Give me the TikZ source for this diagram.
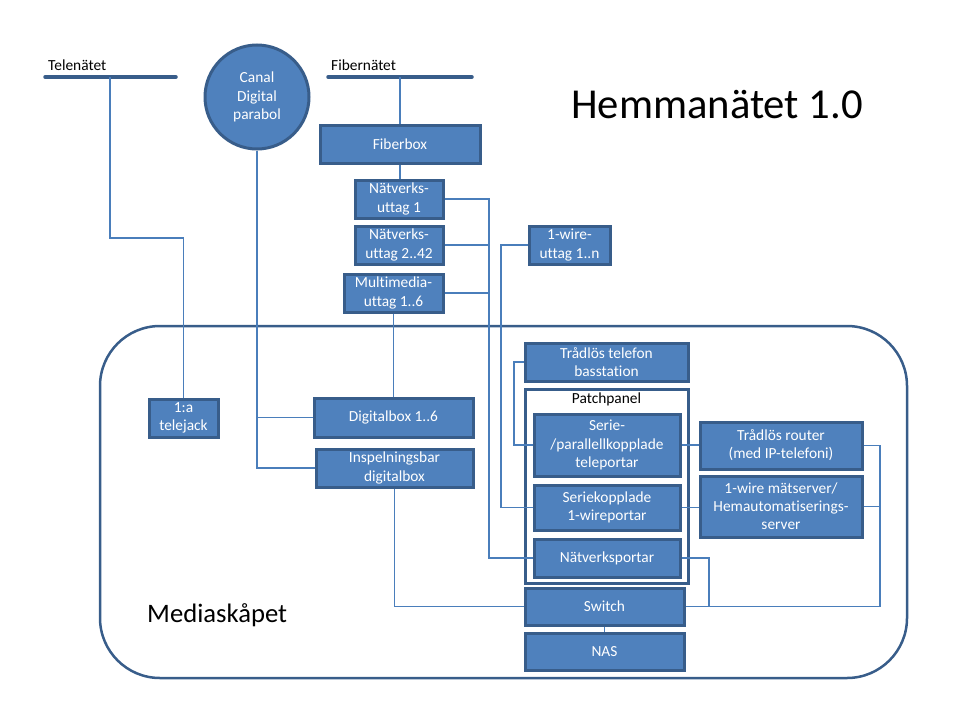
\documentclass[tikz,border=0pt]{standalone}
\usepackage{fontspec}
\setmainfont{Carlito}[Ligatures={NoCommon}]
\definecolor{boxfill}{HTML}{4F81BD}
\definecolor{boxline}{HTML}{385D8A}
\definecolor{connline}{HTML}{4A7EBB}
\tikzset{
  bluebox/.style={draw=boxline, fill=boxfill, line width=3pt, text=white, align=center,
    inner sep=1pt, font=\fontsize{15.4pt}{18.2pt}\selectfont},
  conn/.style={draw=connline, line width=1.1pt},
  netline/.style={draw=boxline, line width=3.5pt, line cap=round},
  lbl/.style={text=black, inner sep=0pt, font=\fontsize{15.4pt}{18.2pt}\selectfont}
}
\newcommand{\bbox}[6]{%
  \node[bluebox, minimum width={(#4)-(#2)}, minimum height={(#5)-(#3)}] (#1) at ({((#2)+(#4))/2},{((#3)+(#5))/2}) {#6};}
\begin{document}
\begin{tikzpicture}[x=1pt,y=-1pt]
\useasboundingbox (0,0) rectangle (960,720);
% cabinet
\node[draw=boxline, line width=2.5pt, rounded corners=60pt, minimum width=807pt, minimum height=352pt, inner sep=0pt] (cab) at (503.5,502) {};
\node[anchor=west, inner sep=0pt, font=\fontsize{26.67pt}{32pt}\selectfont] (medlbl) at (147,615) {Mediaskåpet};
\node[anchor=west, inner sep=0pt, font=\fontsize{42.67pt}{50pt}\selectfont] (title) at (571,105) {Hemmanätet 1.0};
% networks
\coordinate (tnL) at (45,77); \coordinate (tnR) at (176,77);
\coordinate (fnL) at (328,77); \coordinate (fnR) at (472,77);
\draw[netline] (tnL) -- (tnR);
\draw[netline] (fnL) -- (fnR);
\node[lbl, anchor=west] (tnlbl) at (48,65) {Telenätet};
\node[lbl, anchor=west] (fnlbl) at (331,65) {Fibernätet};
\coordinate (tnA) at (110,77);
\coordinate (fnA) at (400,77);
% canal digital
\node[bluebox, circle, minimum size=104pt] (canal) at (257,97) {Canal\\Digital\\parabol};
% boxes
\bbox{fb}{320}{125}{480}{163}{Fiberbox}
\bbox{u1}{355}{180}{443}{218}{Nätverks-\\uttag 1}
\bbox{u2}{355}{226}{443}{264}{Nätverks-\\uttag 2..42}
\bbox{mm}{344}{274}{443}{312}{Multimedia-\\uttag 1..6}
\bbox{ow}{529}{226}{610}{264}{1-wire-\\uttag 1..n}
\bbox{tj}{149}{399}{218}{437}{1:a\\telejack}
\bbox{db}{314}{398}{473}{437}{Digitalbox 1..6}
\bbox{ib}{316}{449}{473}{487}{Inspelningsbar\\digitalbox}
\bbox{bs}{525}{343}{688}{381}{Trådlös telefon\\basstation}
\node[draw=boxline, fill=white, line width=3pt, minimum width=163pt, minimum height=194pt, inner sep=0pt] (pp) at (606.5,486) {};
\node[lbl] (pplbl) at (606.5,399) {Patchpanel};
\bbox{sp}{534}{414}{680}{476}{Serie-\\/parallellkopplade\\teleportar}
\bbox{sk}{534}{485}{680}{530}{Seriekopplade\\1-wireportar}
\bbox{np}{534}{539}{680}{577}{Nätverksportar}
\bbox{rt}{700}{422}{862}{469}{Trådlös router\\(med IP-telefoni)}
\bbox{ms}{700}{476}{862}{537}{1-wire mätserver/\\Hemautomatiserings-\\server}
\bbox{sw}{525}{588}{684}{625}{Switch}
\bbox{nas}{525}{633}{684}{670}{NAS}
% connectors
\coordinate (telebend) at (110,238);
\draw[conn] (tnA) -- (telebend) -| (tj.north);
\draw[conn] (canal.south) |- (db.west);
\draw[conn] (canal.south) |- (ib.west);
\draw[conn] (fnA) -- (fnA |- fb.north);
\draw[conn] (fb.south) -- (fb.south |- u1.north);
\draw[conn] (mm.south) -- (mm.south |- db.north);
\coordinate (busN) at (489,0);
\draw[conn] (u1.east) -- (u1.east -| busN) |- (np.west);
\draw[conn] (u2.east) -- (u2.east -| busN);
\draw[conn] (mm.east) -- (mm.east -| busN);
\coordinate (owx) at (501,0);
\draw[conn] (ow.west) -- (ow.west -| owx) |- (sk.west);
\coordinate (bsx) at (514,0);
\draw[conn] (bs.west) -- (bs.west -| bsx) |- (sp.west);
\draw[conn] (sp.east) -- (sp.east -| rt.west);
\draw[conn] (sk.east) -- (sk.east -| ms.west);
\coordinate (rx) at (880,0);
\draw[conn] (rt.east) -- (rt.east -| rx) |- (sw.east);
\draw[conn] (ms.east) -- (ms.east -| rx);
\coordinate (nx) at (709,0);
\draw[conn] (np.east) -- (np.east -| nx) -- (nx |- sw.east);
\draw[conn] (ib.south) |- (sw.west);
\draw[conn] (sw.south) -- (nas.north);
\end{tikzpicture}
\end{document}
